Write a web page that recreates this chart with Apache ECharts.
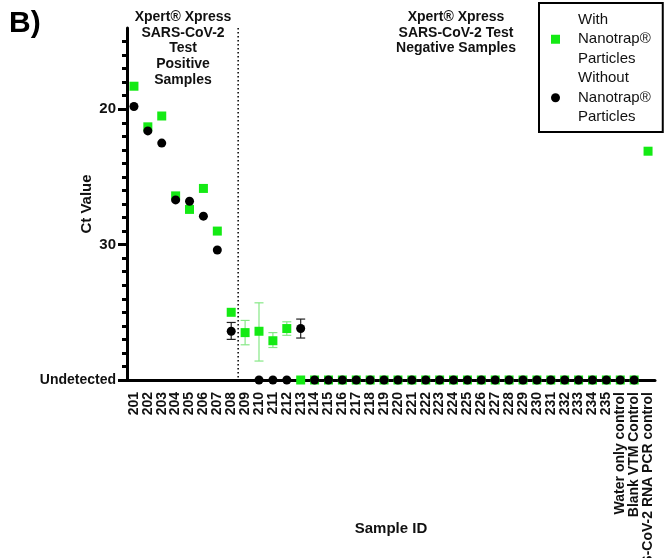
<!DOCTYPE html>
<html>
<head>
<meta charset="utf-8">
<script src="https://cdn.jsdelivr.net/npm/echarts@6/dist/echarts.min.js"></script>
<style>
html,body{margin:0;padding:0;background:#fff;}
#chart{width:665px;height:558px;}
</style>
</head>
<body>
<div id="chart"></div>
<script>
// ---------- data ----------
const categories = ['201','202','203','204','205','206','207','208','209','210','211','212','213','214','215','216','217','218','219','220','221','222','223','224','225','226','227','228','229','230','231','232','233','234','235','Water only control','Blank VTM Control','SARS-CoV-2 RNA PCR control'];
// Ct values; 40 = "Undetected"; null = no point
const withNanotrap = [18.3,21.3,20.5,26.4,27.4,25.85,29.0,35.0,36.5,36.4,37.1,36.2,
  40,40,40,40,40,40,40,40,40,40,40,40,40,40,40,40,40,40,40,40,40,40,40,
  40,40,23.1];
const withoutNanotrap = [19.8,21.6,22.5,26.7,26.8,27.9,30.4,36.4,null,40,40,40,36.2,
  40,40,40,40,40,40,40,40,40,40,40,40,40,40,40,40,40,40,40,40,40,40,
  40,40,null];
// error bars: [category, low, high]
const withErr = [['209',35.6,37.4],['210',34.3,38.6],['211',36.5,37.6],['212',35.7,36.7]];
const withoutErr = [['208',35.75,37.0],['213',35.5,36.9]];
const minorTicks = [15,16,17,18,19,20,21,22,23,24,25,26,27,28,29,30,31,32,33,34,35,36,37,38,39,40];
const majorTicks = [20,30,40];
const tickLabels = {20:'20',30:'30',40:'Undetected'};
const seriesNames = ['With\nNanotrap®\nParticles','Without\nNanotrap®\nParticles'];
const dividerAfter = '208';

const FONT = '"Liberation Sans", Arial, Helvetica, sans-serif';
const GREEN = '#14ea14';

const chart = echarts.init(document.getElementById('chart'), null, {renderer:'canvas'});

function errRender(color){
  return function(params, api){
    const x = api.value(0);
    const lo = api.coord([x, api.value(1)]);
    const hi = api.coord([x, api.value(2)]);
    const w = 4.5;
    const st = {stroke: color, lineWidth: 1.2};
    return {type:'group', children:[
      {type:'line', shape:{x1:lo[0],y1:lo[1],x2:hi[0],y2:hi[1]}, style:st},
      {type:'line', shape:{x1:lo[0]-w,y1:lo[1],x2:lo[0]+w,y2:lo[1]}, style:st},
      {type:'line', shape:{x1:hi[0]-w,y1:hi[1],x2:hi[0]+w,y2:hi[1]}, style:st}
    ]};
  };
}

const idx = categories.indexOf(dividerAfter);

const option = {
  animation:false,
  backgroundColor:'#fff',
  textStyle:{fontFamily:FONT},
  grid:{left:127,right:10,top:28,bottom:178,containLabel:false,outerBoundsMode:'none'},
  legend:{
    data:seriesNames,
    orient:'vertical',
    left:539, top:3,
    padding:[7,12,5,12],
    itemGap:0,
    itemWidth:9, itemHeight:9,
    borderColor:'#000', borderWidth:2,
    textStyle:{fontFamily:FONT,fontSize:15,color:'#111',lineHeight:19.5,padding:[0,0,0,13]}
  },
  xAxis:{
    type:'category',
    data:categories,
    name:'Sample ID',
    nameLocation:'middle',
    nameGap:141,
    nameMoveOverlap:false,
    nameTextStyle:{fontFamily:FONT,fontSize:15,fontWeight:'bold',color:'#111',verticalAlign:'top'},
    axisLine:{lineStyle:{color:'#000',width:3}},
    axisTick:{alignWithLabel:true,interval:0,length:7,lineStyle:{color:'#000',width:3}},
    axisLabel:{interval:0,rotate:90,margin:12,fontFamily:FONT,fontSize:14,fontWeight:'bold',color:'#111'},
    splitLine:{show:false}
  },
  yAxis:[{
    type:'value',
    inverse:true,
    min:14, max:40, interval:1,
    position:'left',
    name:'Ct Value',
    nameLocation:'middle',
    nameGap:33,
    nameMoveOverlap:false,
    nameTextStyle:{fontFamily:FONT,fontSize:15,fontWeight:'bold',color:'#111'},
    axisLine:{show:true,lineStyle:{color:'#000',width:3}},
    axisTick:{show:true,customValues:minorTicks,length:5,lineStyle:{color:'#000',width:3}},
    axisLabel:{
      customValues:majorTicks,
      margin:11,
      formatter:function(v){ return v===40 ? '{u|'+tickLabels[v]+'}' : '{n|'+(tickLabels[v]||'')+'}'; },
      rich:{
        n:{fontFamily:FONT,fontSize:15,fontWeight:'bold',color:'#111'},
        u:{fontFamily:FONT,fontSize:14,fontWeight:'bold',color:'#111'}
      }
    },
    splitLine:{show:false}
  },{
    type:'value',
    inverse:true,
    min:14, max:40, interval:1,
    position:'left', offset:0,
    axisLine:{show:false},
    axisTick:{show:true,customValues:majorTicks,length:9,lineStyle:{color:'#000',width:3}},
    axisLabel:{show:false},
    splitLine:{show:false}
  }],
  graphic:[
    {type:'text',left:9,top:9,style:{text:'B)',font:'bold 30px '+FONT,fill:'#000'}},
    {type:'text',x:183,y:9.5,style:{text:'Xpert® Xpress\nSARS-CoV-2\nTest\nPositive\nSamples',font:'bold 14px '+FONT,fill:'#111',align:'center',lineHeight:15.6}},
    {type:'text',x:456,y:9.5,style:{text:'Xpert® Xpress\nSARS-CoV-2 Test\nNegative Samples',font:'bold 14px '+FONT,fill:'#111',align:'center',lineHeight:15.6}}
  ],
  series:[
    {
      type:'custom', name:'divider', silent:true, z:1,
      renderItem:function(params, api){
        const a = api.coord([idx, 14]);
        const b = api.coord([idx+1, 40]);
        const x = (a[0]+b[0])/2;
        return {type:'line', shape:{x1:x,y1:a[1],x2:x,y2:b[1]}, style:{stroke:'#000',lineWidth:1.5,lineDash:[1.5,2.5]}};
      },
      data:[[idx]]
    },
    {type:'custom', name:'withErr', silent:true, z:2, renderItem:errRender('#86e886'), encode:{x:0,y:[1,2]}, data:withErr},
    {type:'custom', name:'withoutErr', silent:true, z:2, renderItem:errRender('#222'), encode:{x:0,y:[1,2]}, data:withoutErr},
    {
      type:'scatter', name:seriesNames[0], z:3,
      symbol:'rect', symbolSize:9,
      itemStyle:{color:GREEN,opacity:1},
      data:withNanotrap.map(v => v===null ? '-' : v)
    },
    {
      type:'scatter', name:seriesNames[1], z:4,
      symbol:'circle', symbolSize:9,
      itemStyle:{color:'#000',opacity:1},
      data:withoutNanotrap.map(v => v===null ? '-' : v)
    }
  ]
};
chart.setOption(option);
</script>
</body>
</html>
